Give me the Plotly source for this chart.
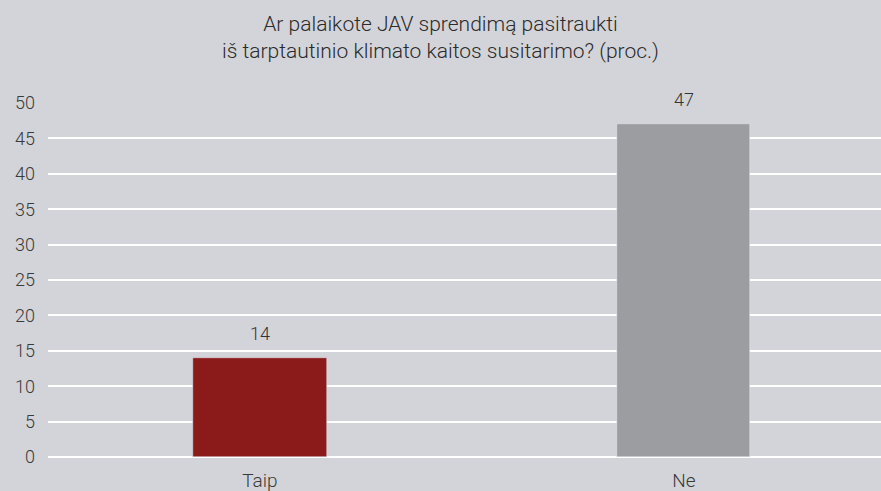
import plotly.graph_objects as go

categories = ["Taip", "Ne"]
values = [14, 47]
colors = ["#8b1a1a", "#9c9da1"]
y_ticks = [0, 5, 10, 15, 20, 25, 30, 35, 40, 45, 50]
title_text = "Ar palaikote JAV sprendimą pasitraukti<br>iš tarptautinio klimato kaitos susitarimo? (proc.)"

fig = go.Figure()
fig.add_trace(go.Bar(
    x=categories, y=values, marker_color=colors, width=0.314,
))

for c, v in zip(categories, values):
    fig.add_annotation(x=c, y=v, text=str(v), showarrow=False, yanchor="bottom",
                       yshift=12, font=dict(family="Roboto", size=18, color="#333333", weight=300))

fig.update_layout(
    width=881, height=491,
    paper_bgcolor="#d3d4d9", plot_bgcolor="#d3d4d9",
    margin=dict(l=48, r=0, t=103, b=34),
    title=dict(text=title_text, x=0.5, xanchor="center", y=0.937, yanchor="top",
               font=dict(family="Roboto", size=21, color="#2b2b2b", weight=300)),
    font=dict(family="Roboto", size=17, color="#3a3a3a", weight=300),
    showlegend=False,
    bargap=0,
)
fig.update_xaxes(range=[-0.5, 1.465], showgrid=False, showline=False, ticks="",
                 ticklabelstandoff=10,
                 tickfont=dict(family="Roboto", size=19, color="#3a3a3a", weight=300))
fig.update_yaxes(range=[0, 50], tickvals=y_ticks, showgrid=True, gridcolor="#ffffff",
                 gridwidth=2, zeroline=True, zerolinecolor="#ffffff", zerolinewidth=2,
                 ticks="", ticklabelstandoff=12,
                 tickfont=dict(family="Roboto", size=18, color="#3a3a3a", weight=300))

fig.write_html("out.html", config={"displayModeBar": False},
               post_script="document.body.style.margin='0px';document.body.style.overflow='hidden';document.body.style.background='#d3d4d9';")
